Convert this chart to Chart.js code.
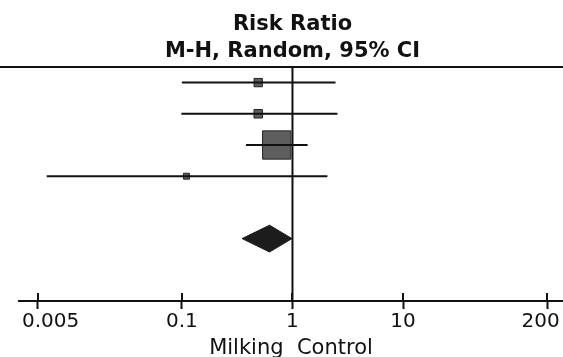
<!DOCTYPE html>
<html lang="en">
<head>
    <meta charset="UTF-8" />
    <title>Risk Ratio - forest plot</title>
    <script src="https://cdn.jsdelivr.net/npm/chart.js"></script>
    <style>
        html, body {
            margin: 0;
            padding: 0;
            background: #fff;
        }
        #wrap {
            width: 563px;
            height: 357px;
        }
    </style>
</head>
<body>

<div id="wrap"><canvas id="forest"></canvas></div>

<script>
    // study rows (top to bottom)
    const rows = [1, 2, 3, 4];
    const estimates = [0.49, 0.49, 0.72, 0.11];
    const ciLow = [0.10, 0.099, 0.38, 0.006];
    const ciHigh = [2.45, 2.55, 1.37, 2.07];
    const weights = [7.1, 7.3, 82.0, 3.6];

    // pooled estimate (diamond)
    const pooledRow = [6];
    const pooledEstimate = [0.62];
    const pooledLow = [0.35];
    const pooledHigh = [0.99];

    const tickValues = [0.005, 0.1, 1, 10, 200];
    const headerLines = ['Risk Ratio', 'M-H, Random, 95% CI'];
    const axisTitle = 'Milking  Control';

    const FONT = '"DejaVu Sans", Verdana, sans-serif';
    const INK = '#111';
    const DIAMOND_HALF = 0.43;

    // CI whiskers as one line with gaps between studies
    const ciPoints = [];
    rows.forEach((r, i) => {
        ciPoints.push({ x: ciLow[i], y: r }, { x: ciHigh[i], y: r }, { x: ciHigh[i], y: null });
    });

    const squarePoints = rows.map((r, i) => ({ x: estimates[i], y: r }));
    const squareRadius = weights.map(w => 2.21 * Math.sqrt(w));

    const diamond = [
        { x: pooledLow[0], y: pooledRow[0] },
        { x: pooledEstimate[0], y: pooledRow[0] - DIAMOND_HALF },
        { x: pooledHigh[0], y: pooledRow[0] },
        { x: pooledEstimate[0], y: pooledRow[0] + DIAMOND_HALF },
        { x: pooledLow[0], y: pooledRow[0] }
    ];

    // nudge the end labels inwards a bit, like the original plot
    function tickLabel(v) {
        const s = String(v);
        if (v === tickValues[0]) return '    ' + s;
        if (v === tickValues[tickValues.length - 1]) return s + '  ';
        return s;
    }

    const forestExtras = {
        id: 'forestExtras',
        afterDraw(chart) {
            const ctx = chart.ctx;
            const xs = chart.scales.x;
            const area = chart.chartArea;
            const x1 = xs.getPixelForValue(1);

            ctx.save();
            ctx.fillStyle = INK;
            ctx.font = 'bold 21px ' + FONT;
            ctx.textAlign = 'center';
            ctx.textBaseline = 'alphabetic';
            ctx.fillText(headerLines[0], x1, 30);
            ctx.fillText(headerLines[1], x1, 57);

            ctx.strokeStyle = INK;
            ctx.lineWidth = 2;
            ctx.beginPath();
            ctx.moveTo(0, area.top);
            ctx.lineTo(chart.width, area.top);
            ctx.stroke();

            // upper half of the tick marks
            ctx.beginPath();
            xs.ticks.forEach(t => {
                const px = Math.round(xs.getPixelForValue(t.value));
                ctx.moveTo(px, area.bottom - 8);
                ctx.lineTo(px, area.bottom);
            });
            ctx.stroke();
            ctx.restore();
        }
    };

    new Chart(document.getElementById('forest'), {
        type: 'line',
        data: {
            datasets: [
                {
                    data: [{ x: 1, y: 0.5 }, { x: 1, y: 8 }],
                    borderColor: INK,
                    borderWidth: 2,
                    pointRadius: 0
                },
                {
                    data: ciPoints,
                    borderColor: INK,
                    borderWidth: 2,
                    pointRadius: 0,
                    spanGaps: false
                },
                {
                    data: squarePoints,
                    showLine: false,
                    pointStyle: 'rect',
                    pointRadius: squareRadius,
                    pointHoverRadius: 0,
                    pointBackgroundColor: '#5e5e5e',
                    pointBorderColor: '#222',
                    pointBorderWidth: 1
                },
                {
                    data: diamond,
                    borderColor: '#1c1c1c',
                    backgroundColor: '#1c1c1c',
                    borderWidth: 1,
                    pointRadius: 0,
                    fill: 'shape'
                }
            ]
        },
        options: {
            responsive: true,
            maintainAspectRatio: false,
            animation: false,
            layout: {
                autoPadding: false,
                padding: { top: 67, left: 19, right: 0, bottom: 0 }
            },
            plugins: {
                legend: { display: false },
                tooltip: { enabled: false }
            },
            scales: {
                x: {
                    type: 'logarithmic',
                    min: 0.00337,
                    max: 279,
                    afterBuildTicks: (scale) => {
                        scale.ticks = tickValues.map(v => ({ value: v }));
                    },
                    afterFit: (scale) => {
                        scale.paddingLeft = 0;
                        scale.paddingRight = 0;
                    },
                    border: { display: true, color: INK, width: 2 },
                    grid: {
                        drawOnChartArea: false,
                        drawTicks: true,
                        tickLength: 8,
                        tickWidth: 2,
                        tickColor: INK
                    },
                    ticks: {
                        autoSkip: false,
                        maxRotation: 0,
                        padding: 1,
                        color: INK,
                        font: { family: FONT, size: 20 },
                        callback: tickLabel
                    },
                    title: {
                        display: true,
                        text: axisTitle,
                        color: INK,
                        font: { family: FONT, size: 21, lineHeight: 1 },
                        padding: { top: 3, bottom: -2 }
                    }
                },
                y: {
                    type: 'linear',
                    display: false,
                    reverse: true,
                    min: 0.5,
                    max: 8
                }
            }
        },
        plugins: [forestExtras]
    });
</script>

</body>
</html>
